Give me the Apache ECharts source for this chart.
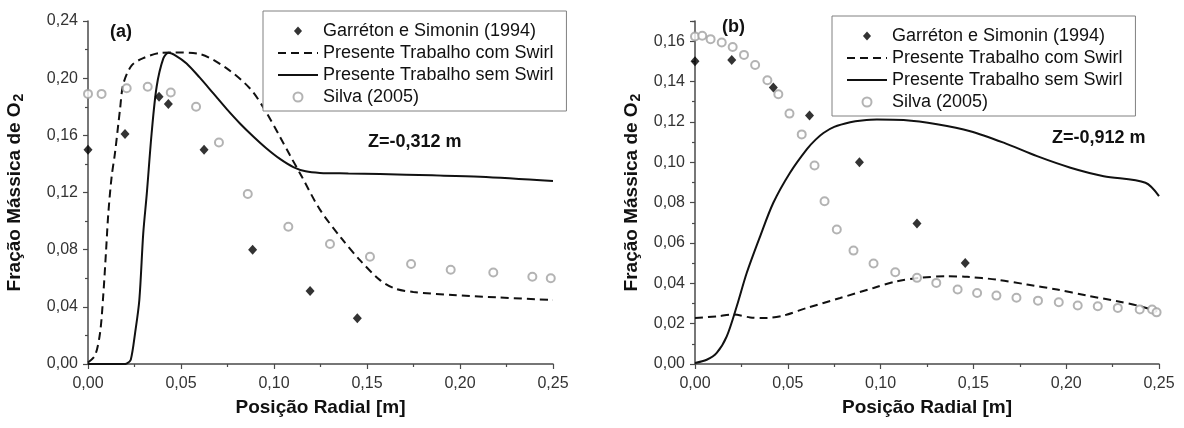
<!DOCTYPE html>
<html>
<head>
<meta charset="utf-8">
<script src="https://cdn.jsdelivr.net/npm/echarts@6/dist/echarts.min.js"></script>
<style>
html,body{margin:0;padding:0;background:#fff;}
#c{width:1184px;height:428px;}
</style>
</head>
<body>
<div id="c"></div>
<script>
// ---------- Data ----------
const seriesNames = ['Garréton e Simonin (1994)', 'Presente Trabalho com Swirl', 'Presente Trabalho sem Swirl', 'Silva (2005)'];
const panelLabels = ['(a)', '(b)'];
const zLabels = ['Z=-0,312 m', 'Z=-0,912 m'];
const xTitle = 'Posição Radial [m]';

// Panel (a)
const aGarretonX = [0, 0.0199, 0.0382, 0.0432, 0.0624, 0.0885, 0.1194, 0.1448];
const aGarretonY = [0.150, 0.161, 0.187, 0.182, 0.150, 0.080, 0.051, 0.032];
const aSilvaX = [0.0, 0.0073, 0.0208, 0.0321, 0.0445, 0.0581, 0.0704, 0.0859, 0.1077, 0.1301, 0.1516, 0.1737, 0.195, 0.2179, 0.2389, 0.2488];
const aSilvaY = [0.189, 0.189, 0.193, 0.194, 0.190, 0.180, 0.155, 0.119, 0.096, 0.084, 0.075, 0.070, 0.066, 0.064, 0.061, 0.060];
const aComX = [0, 0.0038, 0.0065, 0.0082, 0.0097, 0.0109, 0.0127, 0.0145, 0.0172, 0.019, 0.0235, 0.0297, 0.0387, 0.0459, 0.0602, 0.0746, 0.0871, 0.095, 0.1032, 0.1086, 0.115, 0.1247, 0.1362, 0.1462, 0.157, 0.165, 0.1749, 0.196, 0.2197, 0.25];
const aComY = [0.001, 0.006, 0.022, 0.048, 0.079, 0.105, 0.131, 0.1475, 0.178, 0.196, 0.209, 0.214, 0.2177, 0.218, 0.2168, 0.2068, 0.1928, 0.178, 0.159, 0.146, 0.131, 0.108, 0.088, 0.0727, 0.0587, 0.0528, 0.0504, 0.0483, 0.0466, 0.0448];
const aSemX = [0, 0.019, 0.021, 0.023, 0.0253, 0.0276, 0.0297, 0.0316, 0.0342, 0.0369, 0.0405, 0.0432, 0.0475, 0.053, 0.06, 0.0674, 0.0745, 0.0817, 0.089, 0.096, 0.1032, 0.1104, 0.117, 0.1247, 0.14, 0.157, 0.185, 0.2108, 0.25];
const aSemY = [0, 0, 0.0005, 0.003, 0.0215, 0.0448, 0.0914, 0.119, 0.1613, 0.194, 0.2138, 0.2177, 0.2155, 0.2103, 0.2005, 0.1893, 0.1785, 0.1683, 0.159, 0.1508, 0.1435, 0.1378, 0.1348, 0.1337, 0.1333, 0.1329, 0.132, 0.131, 0.128];

// Panel (b)
const bGarretonX = [0, 0.0198, 0.0422, 0.0617, 0.0886, 0.1196, 0.1456];
const bGarretonY = [0.150, 0.1507, 0.137, 0.1232, 0.100, 0.0696, 0.050];
const bSilvaX = [0, 0.0039, 0.0084, 0.0144, 0.0203, 0.0264, 0.0324, 0.039, 0.0449, 0.0509, 0.0575, 0.0644, 0.0698, 0.0764, 0.0854, 0.0962, 0.1079, 0.1196, 0.13, 0.1415, 0.152, 0.1624, 0.1732, 0.1848, 0.196, 0.2062, 0.217, 0.2278, 0.2396, 0.2463, 0.2487];
const bSilvaY = [0.1623, 0.1627, 0.161, 0.1593, 0.1571, 0.1532, 0.1482, 0.1406, 0.1337, 0.1241, 0.1138, 0.0984, 0.0807, 0.0667, 0.0562, 0.0498, 0.0455, 0.0427, 0.0402, 0.0369, 0.0352, 0.0339, 0.0328, 0.0314, 0.0306, 0.029, 0.0286, 0.0278, 0.027, 0.027, 0.0256];
const bComX = [0, 0.0117, 0.0207, 0.0297, 0.0386, 0.0476, 0.0603, 0.0782, 0.0962, 0.1088, 0.1214, 0.1358, 0.1466, 0.1627, 0.1789, 0.1951, 0.2113, 0.2275, 0.24, 0.249];
const bComY = [0.0228, 0.0236, 0.0245, 0.0231, 0.0228, 0.024, 0.0278, 0.0327, 0.0377, 0.041, 0.0427, 0.0435, 0.0432, 0.0418, 0.0394, 0.0369, 0.0339, 0.0311, 0.0286, 0.0261];
const bSemX = [0, 0.0063, 0.0117, 0.0171, 0.0225, 0.0279, 0.0351, 0.0422, 0.0512, 0.0603, 0.065, 0.0692, 0.075, 0.0836, 0.09, 0.098, 0.1124, 0.1304, 0.1483, 0.1663, 0.1843, 0.2023, 0.2202, 0.2427, 0.25];
const bSemY = [0.0005, 0.0021, 0.0055, 0.0137, 0.0286, 0.0452, 0.0633, 0.0799, 0.0948, 0.1065, 0.1112, 0.1145, 0.1175, 0.1198, 0.1207, 0.1212, 0.1209, 0.1188, 0.1154, 0.1097, 0.103, 0.0973, 0.0931, 0.0898, 0.0832];

// ---------- Chart ----------
const FONT = 'Liberation Sans';
const zip = (xs, ys) => xs.map((x, i) => [x, ys[i]]);
const fmt = (step) => (v) => {
  const k = Math.round(v / step);
  if (Math.abs(k * step - v) > 1e-9) return '';
  return v.toFixed(2).replace('.', ',');
};
const AX = '#4a4a4a';
const DIAMOND = 'path://M0,0L4.5,5L0,10L-4.5,5Z';

function xAxis(grid) {
  return {
    type: 'value', gridIndex: grid, min: 0, max: 0.25, interval: 0.05,
    name: xTitle, nameLocation: 'middle', nameGap: 34,
    nameTextStyle: {fontFamily: FONT, fontSize: 19, fontWeight: 'bold', color: '#111'},
    axisLine: {show: true, onZero: false, lineStyle: {color: AX, width: 1.5}},
    axisTick: {show: true, inside: false, length: 5, lineStyle: {color: AX, width: 1.2}},
    minorTick: {show: true, splitNumber: 2, length: 3, lineStyle: {color: AX, width: 1.2}},
    splitLine: {show: false},
    axisLabel: {fontFamily: FONT, fontSize: 16, color: '#333', margin: 12, formatter: fmt(0.05)}
  };
}
function yAxis(grid, max, interval, gap) {
  return {
    type: 'value', gridIndex: grid, min: 0, max: max, interval: interval,
    name: '{t|Fração Mássica de O}{s|2}', nameLocation: 'middle', nameGap: gap,
    nameTextStyle: {
      fontFamily: FONT, fontSize: 19, fontWeight: 'bold', color: '#111',
      rich: {
        t: {fontFamily: FONT, fontSize: 19, fontWeight: 'bold', color: '#111'},
        s: {fontFamily: FONT, fontSize: 14, fontWeight: 'bold', color: '#111', padding: [9, 0, 0, 1]}
      }
    },
    axisLine: {show: true, onZero: false, lineStyle: {color: AX, width: 1.5}},
    axisTick: {show: true, inside: false, length: 5, lineStyle: {color: AX, width: 1.2}},
    minorTick: {show: true, splitNumber: 2, length: 3, lineStyle: {color: AX, width: 1.2}},
    splitLine: {show: false},
    axisLabel: {fontFamily: FONT, fontSize: 16, color: '#333', margin: 10, formatter: fmt(interval)}
  };
}
function seriesFor(grid, gx, gy, cx, cy, sx, sy, vx, vy) {
  return [
    {name: seriesNames[0], type: 'scatter', xAxisIndex: grid, yAxisIndex: grid, symbol: 'diamond', symbolSize: [9, 10],
     itemStyle: {color: '#000'}, data: zip(gx, gy), z: 5},
    {name: seriesNames[1], type: 'line', xAxisIndex: grid, yAxisIndex: grid, symbol: 'none', smooth: 0.3,
     lineStyle: {color: '#111', width: 2, type: [8, 5]}, itemStyle: {color: 'rgba(0,0,0,0)', borderWidth: 0}, data: zip(cx, cy)},
    {name: seriesNames[2], type: 'line', xAxisIndex: grid, yAxisIndex: grid, symbol: 'none', smooth: 0.3,
     lineStyle: {color: '#111', width: 2}, itemStyle: {color: 'rgba(0,0,0,0)', borderWidth: 0}, data: zip(sx, sy)},
    {name: seriesNames[3], type: 'scatter', xAxisIndex: grid, yAxisIndex: grid, symbol: 'emptyCircle', symbolSize: 8,
     itemStyle: {color: '#a0a0a0', borderWidth: 1.3}, data: zip(vx, vy), z: 4}
  ];
}
function legendAt(left, top) {
  return {
    orient: 'vertical', left: left, top: top, itemWidth: 40, itemHeight: 9, itemGap: 4,
    padding: [11, 13, 5, 14], borderColor: '#808080', borderWidth: 1, backgroundColor: '#fff',
    symbolKeepAspect: true,
    textStyle: {fontFamily: FONT, fontSize: 18, color: '#111', lineHeight: 18},
    data: [
      {name: seriesNames[0], icon: DIAMOND},
      {name: seriesNames[1]},
      {name: seriesNames[2]},
      {name: seriesNames[3]}
    ],
    selectedMode: false
  };
}
function label(text, left, top, size) {
  return {type: 'text', left: left, top: top, z: 10,
    style: {text: text, fontFamily: FONT, fontSize: size, fontWeight: 'bold', fill: '#111'}};
}

const chart = echarts.init(document.getElementById('c'), null, {renderer: 'canvas'});
chart.setOption({
  animation: false,
  backgroundColor: '#fff',
  grid: [
    {left: 88, right: 631, top: 21, bottom: 64, containLabel: false},
    {left: 695, right: 25, top: 21, bottom: 64, containLabel: false}
  ],
  xAxis: [xAxis(0), xAxis(1)],
  yAxis: [yAxis(0, 0.24, 0.04, 62), yAxis(1, 0.17, 0.02, 52)],
  legend: [legendAt(263, 11), legendAt(832, 16)],
  graphic: [
    label(panelLabels[0], 110, 23, 18),
    label(panelLabels[1], 722, 18, 18),
    label(zLabels[0], 368, 133, 18),
    label(zLabels[1], 1052, 129, 18)
  ],
  series: [].concat(
    seriesFor(0, aGarretonX, aGarretonY, aComX, aComY, aSemX, aSemY, aSilvaX, aSilvaY),
    seriesFor(1, bGarretonX, bGarretonY, bComX, bComY, bSemX, bSemY, bSilvaX, bSilvaY)
  )
});
</script>
</body>
</html>
